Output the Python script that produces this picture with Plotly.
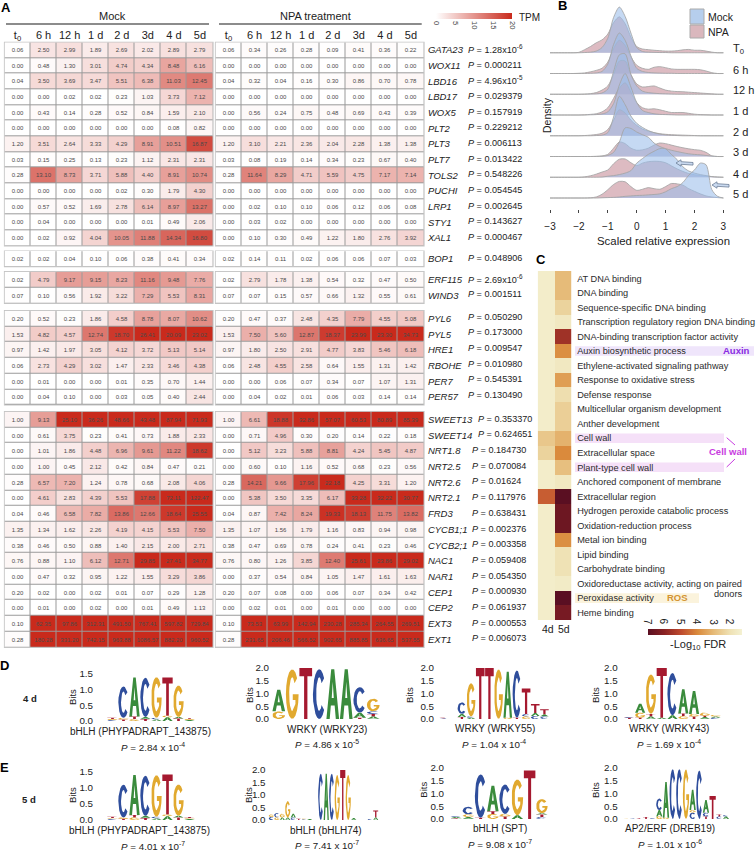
import math
import plotly.graph_objects as go

W, H = 756, 851
FONT = "Liberation Sans"

# ---------- Panel A data ----------
TIMES = ["t<sub>0</sub>", "6 h", "12 h", "1 d", "2 d", "3d", "4 d", "5d"]
GENES_1 = ["GATA23","WOX11","LBD16","LBD17","WOX5","PLT2","PLT3","PLT7","TOLS2","PUCHI","LRP1","STY1","XAL1"]
MOCK_1 = [
 [0.06,2.50,2.99,1.89,2.69,2.02,2.89,2.79],
 [0.00,0.48,1.30,3.01,4.74,4.34,8.48,6.16],
 [0.04,3.50,3.69,3.47,5.51,6.38,11.03,12.45],
 [0.00,0.00,0.02,0.02,0.23,1.03,3.73,7.12],
 [0.00,0.43,0.14,0.28,0.52,0.84,1.59,2.10],
 [0.00,0.00,0.00,0.00,0.00,0.00,0.08,0.82],
 [1.20,3.51,2.64,3.33,4.29,8.91,10.51,16.87],
 [0.03,0.15,0.25,0.13,0.23,1.12,2.31,2.31],
 [0.28,13.10,8.73,3.71,5.88,4.40,8.91,10.74],
 [0.00,0.00,0.00,0.00,0.02,0.30,1.79,4.30],
 [0.00,0.57,0.52,1.69,2.78,6.14,8.97,13.27],
 [0.00,0.04,0.00,0.00,0.00,0.01,0.49,2.06],
 [0.00,0.02,0.92,4.04,10.05,11.88,14.34,16.80]]
NPA_1 = [
 [0.06,0.34,0.26,0.28,0.09,0.41,0.36,0.22],
 [0.00,0.00,0.00,0.00,0.00,0.00,0.00,0.00],
 [0.04,0.32,0.04,0.16,0.30,0.86,0.70,0.78],
 [0.00,0.00,0.00,0.00,0.00,0.00,0.00,0.00],
 [0.00,0.56,0.24,0.75,0.48,0.69,0.43,0.39],
 [0.00,0.00,0.00,0.00,0.00,0.00,0.00,0.00],
 [1.20,3.10,2.21,2.36,2.04,2.28,1.38,1.38],
 [0.03,0.08,0.19,0.14,0.34,0.23,0.67,0.40],
 [0.28,11.64,8.29,4.71,5.59,4.75,7.17,7.14],
 [0.00,0.00,0.00,0.00,0.00,0.00,0.00,0.00],
 [0.00,0.02,0.10,0.10,0.06,0.12,0.06,0.08],
 [0.00,0.03,0.02,0.00,0.00,0.00,0.00,0.00],
 [0.00,0.10,0.30,0.49,1.22,1.80,2.76,3.92]]
P_1 = ["1.28x10<sup>-6</sup>","0.000211","4.96x10<sup>-5</sup>","0.029379","0.157919","0.229212","0.006113","0.013422","0.548226","0.054545","0.002645","0.143627","0.000467"]

GENES_2 = ["BOP1"]
MOCK_2 = [[0.02,0.02,0.04,0.10,0.06,0.38,0.41,0.34]]
NPA_2 = [[0.02,0.14,0.11,0.02,0.06,0.06,0.07,0.03]]
P_2 = ["0.048906"]

GENES_3 = ["ERF115","WIND3"]
MOCK_3 = [[0.02,4.79,9.17,9.15,8.23,11.16,9.48,7.76],[0.07,0.10,0.56,1.92,3.22,7.29,5.53,8.31]]
NPA_3 = [[0.02,2.79,1.78,1.38,0.54,0.32,0.47,0.50],[0.07,0.07,0.15,0.57,0.66,1.32,0.55,0.61]]
P_3 = ["2.69x10<sup>-6</sup>","0.001511"]

GENES_4 = ["PYL6","PYL5","HRE1","RBOHE","PER7","PER57"]
MOCK_4 = [
 [0.20,0.52,0.23,1.86,4.58,8.78,8.07,10.62],
 [1.53,4.82,4.57,12.74,18.70,26.41,20.09,23.02],
 [0.97,1.42,1.97,3.05,4.12,3.72,5.13,5.14],
 [0.06,2.73,4.29,3.02,1.47,2.33,3.46,4.38],
 [0.00,0.01,0.00,0.00,0.01,0.35,0.70,1.44],
 [0.00,0.04,0.10,0.00,0.03,0.05,0.40,2.44]]
NPA_4 = [
 [0.20,0.47,0.37,2.48,4.35,7.79,4.55,5.08],
 [1.53,7.50,5.60,12.87,18.37,23.99,23.30,34.73],
 [0.97,1.80,2.50,2.91,4.77,3.83,5.46,6.18],
 [0.06,2.48,4.55,2.58,0.64,1.55,1.31,1.42],
 [0.00,0.00,0.06,0.07,0.34,0.07,1.07,1.31],
 [0.00,0.04,0.02,0.01,0.06,0.03,0.14,0.14]]
P_4 = ["0.050290","0.173000","0.009547","0.010980","0.545391","0.130490"]

GENES_5 = ["SWEET13","SWEET14","NRT1.8","NRT2.5","NRT2.6","NRT2.1","FRD3","CYCB1;1","CYCB2;1","NAC1","NAR1","CEP1","CEP2","EXT3","EXT1"]
MOCK_5 = [
 [1.00,9.13,25.10,36.26,48.66,43.48,87.94,71.93],
 [0.00,0.61,3.75,0.23,0.41,0.73,1.88,2.33],
 [0.00,1.01,1.86,4.48,6.96,9.61,11.22,18.62],
 [0.00,1.00,0.45,2.12,0.42,0.84,0.47,0.21],
 [0.28,6.57,7.20,1.24,0.78,0.68,2.08,4.06],
 [0.00,4.61,2.83,4.39,5.53,17.88,72.11,122.47],
 [0.04,0.46,6.58,7.82,13.86,12.66,18.64,25.55],
 [1.35,1.34,1.62,2.26,4.19,4.15,5.53,7.50],
 [0.38,0.46,0.50,0.88,1.40,2.15,2.00,2.71],
 [0.76,0.88,1.10,6.12,12.71,29.85,27.41,34.77],
 [0.00,0.47,0.32,0.95,1.22,1.55,3.29,3.86],
 [0.20,0.02,0.00,0.02,0.01,0.07,0.29,1.28],
 [0.00,0.01,0.00,0.02,0.00,0.01,0.49,1.13],
 [0.10,62.35,97.86,312.31,491.50,767.41,597.82,729.84],
 [0.28,180.28,331.20,742.15,963.88,1086.57,882.20,960.52]]
NPA_5 = [
 [1.00,6.61,18.88,32.86,57.07,60.53,80.89,85.39],
 [0.00,0.71,4.96,0.30,0.20,0.14,0.22,0.18],
 [0.00,5.12,3.23,5.88,8.81,4.24,5.45,4.87],
 [0.00,0.60,0.10,1.16,0.52,0.68,0.23,0.56],
 [0.28,14.21,9.66,17.96,22.18,4.25,3.31,1.20],
 [0.00,5.38,3.50,3.35,6.17,33.28,32.22,30.77],
 [0.04,0.87,7.42,8.24,19.33,18.13,11.75,13.82],
 [1.35,1.07,1.56,1.79,1.16,0.83,0.94,0.98],
 [0.38,0.47,0.69,0.78,0.24,0.41,0.23,0.46],
 [0.76,0.80,1.26,3.85,12.40,25.61,23.86,29.02],
 [0.00,0.37,0.54,0.84,1.05,1.47,1.61,1.63],
 [0.20,0.07,0.08,0.00,0.06,0.07,0.34,0.42],
 [0.00,0.02,0.01,0.00,0.01,0.00,0.00,0.00],
 [0.10,73.53,63.99,142.94,230.28,285.34,264.55,269.51],
 [0.28,231.65,206.46,566.52,902.65,885.85,636.65,537.55]]
P_5 = ["0.353370","0.624651","0.184730","0.070084","0.01624","0.117976","0.638431","0.002376","0.003358","0.059408","0.054350","0.000930","0.061937","0.000553","0.006073"]

# ---------- Panel B data ----------
RIDGE_X = [-3.0,-2.8,-2.6,-2.4,-2.2,-2.0,-1.8,-1.6,-1.4,-1.2,-1.0,-0.8,-0.6,-0.4,-0.2,0.0,0.2,0.4,0.6,0.8,1.0,1.2,1.4,1.6,1.8,2.0,2.2,2.4,2.6,2.8,3.0]
RIDGE_LABELS = ["T<sub>0</sub>","6 h","12 h","1 d","2 d","3 d","4 d","5 d"]
NPA_T0 = [0,0,0,0,0,.02,.15,.3,.48,.62,.9,1.45,1.73,1.4,.75,.3,.18,.15,.12,.1,.08,.08,.1,.14,.16,.12,.12,.08,.03,0,0]
MOCK_T0 = [0,0,0,0,0,0,.01,.03,.08,.25,.7,1.7,2.2,1.75,.95,.25,.06,.03,.02,.01,.01,0,0,0,0,0,0,0,0,0,0]
NPA_6H = [0,0,0,0,0,.01,.03,.08,.15,.25,.55,1.2,1.6,1.35,.8,.4,.25,.2,.3,.33,.28,.22,.2,.2,.2,.2,.18,.12,.04,0,0]
MOCK_6H = [0,0,0,0,0,0,0,.01,.03,.1,.45,1.4,1.95,1.6,.85,.25,.1,.05,.03,.02,.01,.01,0,0,0,0,0,0,0,0,0]
NPA_12H = [0,0,0,0,0,0,.01,.03,.08,.2,.4,.95,1.6,1.6,.95,.5,.35,.37,.4,.3,.2,.15,.13,.12,.1,.08,.06,.04,.02,0,0]
MOCK_12H = [0,0,0,0,0,0,0,.01,.02,.06,.25,1.1,1.9,1.95,.95,.4,.15,.08,.05,.03,.02,.01,0,0,0,0,0,0,0,0,0]
NPA_1D = [0,0,0,0,0,0,.01,.03,.06,.15,.35,.8,1.3,1.55,1.1,.6,.35,.28,.3,.25,.18,.12,.12,.12,.08,.04,.02,.01,0,0,0]
MOCK_1D = [0,0,0,0,0,0,0,.01,.02,.05,.15,.55,1.45,2.0,1.35,.6,.22,.12,.06,.03,.02,.01,0,0,0,0,0,0,0,0,0]
NPA_2D = [0,0,0,0,0,0,.01,.03,.06,.12,.3,.75,1.25,1.1,.75,.5,.32,.22,.15,.1,.07,.05,.04,.03,.02,.01,0,0,0,0,0]
MOCK_2D = [0,0,0,0,0,0,0,0,.01,.03,.15,.9,1.9,1.5,.95,.6,.4,.25,.15,.08,.04,.02,.01,0,0,0,0,0,0,0,0]
NPA_3D = [0,0,0,0,0,0,0,0,.01,.03,.1,.4,.7,.62,.4,.3,.32,.4,.55,.65,.62,.55,.48,.42,.37,.33,.3,.2,.03,0,0]
MOCK_3D = [0,0,0,0,0,0,0,0,0,.01,.05,.2,.7,1.38,1.35,1.18,1.05,.93,.65,.48,.38,.3,.24,.18,.13,.1,.08,.05,.02,0,0]
NPA_4D = [0,0,0,0,0,0,.02,.07,.15,.25,.35,.65,.87,.88,.7,.56,.68,.75,.77,.76,.7,.55,.4,.28,.18,.12,.08,.05,.03,.01,0]
MOCK_4D = [0,0,0,0,0,0,0,0,0,.01,.05,.08,.13,.2,.32,.68,.9,1.1,1.25,1.38,1.37,1.1,.85,.5,.3,.2,.13,.08,.03,.01,0]
NPA_5D = [0,0,0,0,0,0,0,.01,.05,.18,.4,.65,.8,.78,.55,.37,.42,.5,.45,.42,.55,.7,.68,.62,.45,.32,.2,.1,.05,.02,0]
MOCK_5D = [0,0,0,0,0,0,0,0,0,.01,.02,.03,.05,.08,.1,.12,.13,.15,.17,.2,.3,.45,.55,.75,1.1,1.35,1.68,1.6,.4,.08,0]
RIDGES_NPA = [NPA_T0,NPA_6H,NPA_12H,NPA_1D,NPA_2D,NPA_3D,NPA_4D,NPA_5D]
RIDGES_MOCK = [MOCK_T0,MOCK_6H,MOCK_12H,MOCK_1D,MOCK_2D,MOCK_3D,MOCK_4D,MOCK_5D]
B_TICKS = [-3,-2,-1,0,1,2,3]

# ---------- Panel C data ----------
TERMS = ["AT DNA binding","DNA binding","Sequence-specific DNA binding","Transcription regulatory region DNA binding",
 "DNA-binding transcription factor activity","Auxin biosynthetic process","Ethylene-activated signaling pathway",
 "Response to oxidative stress","Defense response","Multicellular organism development","Anther development",
 "Cell wall","Extracellular space","Plant-type cell wall","Anchored component of membrane","Extracellular region",
 "Hydrogen peroxide catabolic process","Oxidation-reduction process","Metal ion binding","Lipid binding",
 "Carbohydrate binding","Oxidoreductase activity, acting on paired","Peroxidase activity","Heme binding"]
FDR_4D = [1.5,1.5,1.5,1.5,1.5,1.5,1.5,1.5,1.5,1.5,1.5,2.7,2.4,1.5,1.5,4.7,1.5,1.5,1.5,1.5,1.5,1.5,1.5,1.5]
FDR_5D = [3.0,3.0,2.4,1.7,5.6,3.9,1.7,3.6,2.1,2.5,2.5,3.2,4.0,2.9,1.7,7.0,6.6,6.6,3.9,2.0,2.0,1.6,7.0,6.4]
FDR_COLS = ["4d","5d"]
FDR_TICKS = [7,6,5,4,3,2]

# ---------- Panels D / E data: bits per letter, bottom to top ----------
LOGO_D1 = [[("C",.03),("G",.03),("T",.04)],[("T",.05),("G",.05),("C",1.0)],[("G",.06),("T",.08),("A",1.25)],[("T",.06),("A",.07),("C",1.25)],
 [("A",.05),("C",.05),("G",1.3)],[("A",.12),("G",.05),("T",1.22)],[("T",.08),("A",.05),("G",1.0)],[("A",.03),("G",.03),("T",.03)]]
LOGO_D2 = [[("G",.3),("A",.85)],[("G",1.95)],[("T",2.0)],[("C",1.95)],[("A",1.95)],[("A",1.95)],[("T",.05),("A",.2),("C",1.0)],[("A",.1),("T",.1),("C",.1),("G",.5)]]
LOGO_D3 = [[("C",.02),("T",.03)],[],[("T",.08),("A",.12),("C",.45)],[("A",.05),("C",.05),("G",1.3)],[("T",2.0)],[("T",2.0)],[("G",1.95)],[("G",.05),("A",1.8)],
 [("T",.05),("C",1.85)],[("G",.1),("C",.1),("T",1.0)],[("C",.12),("A",.12),("T",.35)],[("C",.1),("A",.08),("T",.2)]]
LOGO_D4 = [[("T",.05),("C",.03)],[("T",.05),("G",.2),("A",.35)],[("A",.1),("T",.1),("G",1.55)],[("A",.05),("T",1.95)],[("A",.15),("C",1.65)],
 [("G",.12),("T",.1),("A",.95)],[("T",.1),("G",.1),("A",.9)],[("A",.08),("T",.05),("G",.12)],[("C",.05),("A",.05),("G",.06)]]
LOGO_E1 = [[("C",.03),("G",.03),("T",.04)],[("T",.04),("G",.04),("C",1.02)],[("G",.08),("T",.08),("A",1.25)],[("T",.06),("A",.07),("C",1.25)],
 [("A",.05),("C",.05),("G",1.3)],[("A",.12),("G",.05),("T",1.25)],[("T",.08),("A",.05),("G",.98)],[("A",.03),("G",.03),("T",.03)]]
LOGO_E2 = [[("C",.12),("G",.1)],[("G",.1),("C",.18)],[("A",.1),("G",.15)],[("A",.1),("G",.65)],[("C",.1),("A",.15)],[("T",.05)],[("C",.03),("G",.03)],[("A",.04)],[("T",.03)],
 [("C",1.85)],[("A",1.85)],[("C",1.85)],[("G",1.8)],[("T",2.0)],[("G",1.8)],[("A",.08)],[],[],[("C",.05)],[("A",.1),("T",.28)]]
LOGO_E3 = [[("T",.03),("A",.05),("C",.03)],[("A",.08),("G",.1),("C",.3)],[("T",.05),("C",1.7)],[("G",.2),("T",.1),("A",1.0)],[("T",.1),("G",.1),("C",1.15)],
 [("A",.15),("G",1.4)],[("T",1.9)],[("C",.08),("T",.1),("A",.05),("G",.55)]]
LOGO_E4 = [[("G",.02)],[("C",.02)],[("T",.03)],[("T",.08)],[("C",.03)],[("G",.1),("A",.25),("C",.45)],[("G",.05),("A",1.4)],[("C",1.95)],[("C",1.95)],[("G",1.95)],
 [("C",.25),("G",.1),("A",.8)],[("C",1.9)],[("T",.1),("C",.15),("A",.5)],[("T",.9)],[("C",.1),("T",.08)],[("A",.1),("C",.05)]]
LOGO_NAMES = ["bHLH (PHYPADRAPT_143875)","WRKY (WRKY23)","WRKY (WRKY55)","WRKY (WRKY43)","bHLH (PHYPADRAPT_143875)","bHLH (bHLH74)","bHLH (SPT)","AP2/ERF (DREB19)"]
LOGO_P = ["2.84 x 10<sup>-4</sup>","4.86 x 10<sup>-5</sup>","1.04 x 10<sup>-4</sup>","1.69 x 10<sup>-4</sup>","4.01 x 10<sup>-7</sup>","7.41 x 10<sup>-7</sup>","9.08 x 10<sup>-7</sup>","1.01 x 10<sup>-6</sup>"]
LETTER_COLORS = {"A":"#3A8B3C","C":"#2F4E9C","G":"#E1A92F","T":"#A5192F"}

# ---------- helpers ----------
def px(x): return x / W
def py(y): return 1 - y / H

fig = go.Figure()
layout_axes, annots, shapes = {}, [], []

def add_axes(n, x0, x1, ytop, ybot, xopts=None, yopts=None):
    sfx = "" if n == 1 else str(n)
    xa = dict(domain=[px(x0), px(x1)], anchor=f"y{sfx}", showgrid=False, zeroline=False, showticklabels=False, ticks="", showline=False)
    ya = dict(domain=[py(ybot), py(ytop)], anchor=f"x{sfx}", showgrid=False, zeroline=False, showticklabels=False, ticks="", showline=False)
    xa.update(xopts or {}); ya.update(yopts or {})
    layout_axes[f"xaxis{sfx}"] = xa
    layout_axes[f"yaxis{sfx}"] = ya
    return f"x{sfx}", f"y{sfx}"

def ann(text, x, y, size=9.5, xanchor="center", color="#222", angle=0, yanchor="middle"):
    annots.append(dict(text=text, x=px(x), y=py(y), xref="paper", yref="paper", showarrow=False,
                       font=dict(size=size, color=color, family=FONT), xanchor=xanchor, yanchor=yanchor,
                       textangle=angle, borderpad=0, borderwidth=0))

def rect(x0, y0, x1, y1, fill, line=None, lw=0, layer="below"):
    shapes.append(dict(type="rect", xref="paper", yref="paper", x0=px(x0), x1=px(x1), y0=py(y1), y1=py(y0),
                       fillcolor=fill, line=dict(color=line or fill, width=lw), layer=layer))

def seg(x0, y0, x1, y1, color, lw=1.0):
    shapes.append(dict(type="line", xref="paper", yref="paper", x0=px(x0), x1=px(x1), y0=py(y0), y1=py(y1),
                       line=dict(color=color, width=lw), layer="above"))

def block_arrow(xtip, xtail, y):
    pts = [(xtip,y),(xtip+5,y-3.2),(xtip+5,y-1.3),(xtail,y-1.3+.8),(xtail,y+1.3+.8),(xtip+5,y+1.3),(xtip+5,y+3.2)]
    path = "M " + " L ".join(f"{px(a):.5f},{py(b):.5f}" for a, b in pts) + " Z"
    shapes.append(dict(type="path", xref="paper", yref="paper", path=path, fillcolor="#CADAF0",
                       line=dict(color="#6B7C96", width=0.8), layer="above"))

# ---------- Panel A ----------
GROUPS = [(GENES_1,MOCK_1,NPA_1,P_1,42.3,246.0),(GENES_2,MOCK_2,NPA_2,P_2,251.0,266.7),(GENES_3,MOCK_3,NPA_3,P_3,271.7,303.3),
          (GENES_4,MOCK_4,NPA_4,P_4,310.7,405.0),(GENES_5,MOCK_5,NPA_5,P_5,411.7,647.3)]
n_ax = 1
for gi, (genes, mock, npa, pvals, yt, yb) in enumerate(GROUPS):
    for side, vals, (x0, x1) in (("m", mock, (4.5, 213.0)), ("n", npa, (215.5, 424.0))):
        xo = dict(type="category", categoryorder="array", categoryarray=TIMES)
        yo = dict(type="category", autorange="reversed", categoryorder="array", categoryarray=genes)
        if gi == 0:
            xo.update(side="top", showticklabels=True, tickfont=dict(size=11, color="#222", family=FONT), ticks="")
        if side == "n":
            yo.update(side="right", showticklabels=True, tickfont=dict(size=9.5, color="#222", family=FONT, style="italic"),
                      ticks="outside", ticklen=1, tickcolor="rgba(0,0,0,0)")
        xr, yr = add_axes(n_ax, x0, x1, yt, yb, xo, yo)
        n_ax += 1
        rect(x0, yt, x1, yb, "#9A9A9A", "#C4C4C4", 1.2)
        fig.add_trace(go.Heatmap(z=vals, x=TIMES, y=genes, coloraxis="coloraxis", xaxis=xr, yaxis=yr, xgap=1, ygap=1,
                                 text=[[f"{v:.2f}" for v in r] for r in vals], texttemplate="%{text}",
                                 textfont=dict(size=6, color="#4a4a4a", family=FONT), hoverinfo="skip"))
    rh = (yb - yt) / len(genes)
    for i, p in enumerate(pvals):
        g = genes[i]
        xp = 478 if g.startswith("SWEET") else (472 if gi == 4 else 468)
        dy = -2 if gi == 3 else -1
        ann(f"<i>P</i> = {p}", xp, yt + (i + .5) * rh + dy, size=9.1, xanchor="left")

seg(6, 24, 209, 24, "#666", 1.4)
seg(219, 24, 421.7, 24, "#666", 1.4)
ann("Mock", 112, 16, size=11)
ann("NPA treatment", 315, 16, size=11)
ann("TPM", 519, 17, size=10, xanchor="left")

# ---------- Panel B ----------
PX_PER_X = 28.9
X_ZERO = 636.7
xb0, xb1, yb_top, yb_bot = 541.0, 733.0, 2.0, 209.0
PX_PER_Y = 20.75
bx, by = add_axes(n_ax, xb0, xb1, yb_top, yb_bot,
    dict(range=[(xb0 - X_ZERO) / PX_PER_X, (xb1 - X_ZERO) / PX_PER_X], tickvals=B_TICKS, showticklabels=True, ticks="outside", ticklen=3,
         tickcolor="#444", tickwidth=1, ticklabelstandoff=5, tickfont=dict(size=10, color="#222", family=FONT)),
    dict(range=[(198 - yb_bot) / PX_PER_Y, (198 - yb_top) / PX_PER_Y]))
n_ax += 1
n_r = len(RIDGE_LABELS)
for i in range(n_r):
    base = n_r - 1 - i
    for name, arr, col in (("NPA", RIDGES_NPA[i], "rgba(205,155,165,0.68)"), ("Mock", RIDGES_MOCK[i], "rgba(155,190,235,0.58)")):
        fig.add_trace(go.Scatter(x=RIDGE_X, y=[base + v for v in arr], mode="lines", fill="toself", fillcolor=col, name=name,
                                 line=dict(color="rgba(165,165,165,0.95)", width=0.9, shape="spline", smoothing=0.8),
                                 xaxis=bx, yaxis=by, showlegend=False, hoverinfo="skip"))
for label, yy in zip(RIDGE_LABELS, [49, 70, 90, 111, 132, 152, 174, 194]):
    ann(label, 733, yy, size=11, xanchor="left")
ann("Density", 547, 115, size=10.5, angle=-90)
ann("Scaled relative expression", 663, 241, size=11.4)
rect(690, 9, 704, 24, "#B6CEED", "#AAAAAA", 1, layer="above")
rect(690, 25, 704, 38, "#DAB7BD", "#AAAAAA", 1, layer="above")
ann("Mock", 708, 17, size=10.5, xanchor="left")
ann("NPA", 708, 32, size=10.5, xanchor="left")
block_arrow(676, 693, 163)
block_arrow(712, 729, 185)

# ---------- Panel C ----------
for r_i, c in ((5, "#EFE5FB"),):
    rect(575, 271 + (r_i + .5) * 14.54 - 4.8, 754, 271 + (r_i + .5) * 14.54 + 4.8, c)
for r_i in (11, 13):
    rect(575, 271 + (r_i + .5) * 14.54 - 4.8, 724, 271 + (r_i + .5) * 14.54 + 4.8, "#F5E0F8")
rect(575, 271 + 22.5 * 14.54 - 4.8, 699, 271 + 22.5 * 14.54 + 4.8, "#FBF3DC")

cx, cy = add_axes(n_ax, 537.7, 571.3, 271, 620,
    dict(type="category"),
    dict(type="category", autorange="reversed", side="right", showticklabels=True, categoryorder="array", categoryarray=TERMS,
         tickfont=dict(size=9.2, color="#2b2b2b", family=FONT), ticks="outside", ticklen=3, tickcolor="rgba(0,0,0,0)"))
n_ax += 1
fig.add_trace(go.Heatmap(z=[[-a, -b] for a, b in zip(FDR_4D, FDR_5D)], x=FDR_COLS, y=TERMS, coloraxis="coloraxis2",
                         xaxis=cx, yaxis=cy, hoverinfo="skip"))
ann("4d", 548, 629, size=10.5)
ann("5d", 564, 629, size=10.5)
ann("donors", 714, 594, size=9.2, xanchor="left", color="#2b2b2b")
ann("<b>Auxin</b>", 722.7, 271 + 5.5 * 14.54, size=9.5, xanchor="left", color="#8A2BE2")
ann("<b>Cell wall</b>", 727.7, 451.7, size=9.5, color="#C83CE0")
ann("<b>ROS</b>", 677.7, 597, size=9.5, color="#D39433")
seg(726.7, 437.7, 735, 445, "#C83CE0", 1)
seg(735, 459, 726.7, 467, "#C83CE0", 1)
ann("-Log<sub>10</sub> FDR", 698, 645, size=11)
for v in FDR_TICKS:
    ann(str(v), 648 + (7 - v) * 93.7 / 5.7, 622, size=10, angle=90)

# ---------- Panels D / E: logo glyph outlines in a unit box ----------
def arc(rx, ry, a0, a1, n=16):
    return [(.5 + rx * math.cos(math.radians(a0 + (a1 - a0) * k / n)), .5 + ry * math.sin(math.radians(a0 + (a1 - a0) * k / n))) for k in range(n + 1)]
GLYPHS = {
 "T": [(0,1),(1,1),(1,.84),(.63,.84),(.63,0),(.37,0),(.37,.84),(0,.84)],
 "A": [(0,0),(.26,0),(.35,.27),(.5,.27),(.5,.42),(.42,.42),(.5,.75),(.58,.42),(.5,.42),(.5,.27),(.65,.27),(.74,0),(1,0),(.62,1),(.38,1)],
 "C": arc(.5,.5,40,320) + arc(.24,.34,320,40),
 "G": arc(.5,.5,40,360) + [(.54,.5),(.54,.38),(.75,.38),(.75,.3)] + arc(.24,.34,305,40),
}

def draw_logo(n, logo, x0, x1, y_bot, y_top, ymax, right_edge):
    xa, ya = add_axes(n, x0, x1, y_top, y_bot, dict(range=[0, len(logo)]),
        dict(range=[0, ymax], tickvals=[v * .5 for v in range(int(ymax * 2) + 1)], tickformat=".1f", showticklabels=True,
             ticks="outside", ticklen=max(x0 - right_edge - 3, 0), tickcolor="rgba(0,0,0,0)",
             tickfont=dict(size=9.8, color="#222", family=FONT)))
    polys = {k: ([], []) for k in GLYPHS}
    for i, stack in enumerate(logo):
        bottom = 0.0
        for letter, h in stack:
            xs, ys = polys[letter]
            for gx, gy in GLYPHS[letter]:
                xs.append(i + .03 + .94 * gx)
                ys.append(bottom + gy * h)
            xs.append(None); ys.append(None)
            bottom += h
    for letter, (xs, ys) in polys.items():
        if xs:
            fig.add_trace(go.Scatter(x=xs, y=ys, mode="lines", fill="toself", fillcolor=LETTER_COLORS[letter], name=letter,
                                     line=dict(width=0, color=LETTER_COLORS[letter]), xaxis=xa, yaxis=ya, showlegend=False, hoverinfo="skip"))

LOGOS = [
 (LOGO_D1,107,195,721,674,1.5,93,72,697,140,731.5,152.7,747),
 (LOGO_D2,272,380,719,668,2.0,270.7,249,695,326.7,729,327,744),
 (LOGO_D3,439,549,719,668,2.0,434,409,695,494.7,728,494,744),
 (LOGO_D4,624,721,719,668,2.0,617.7,595,695,669,728,669,744),
 (LOGO_E1,107,195,820,772,1.5,93,72,795,139,830.7,152.7,846),
 (LOGO_E2,268.5,378.5,820,770,2.0,268,248,795,326,830.7,327,845),
 (LOGO_E3,450,548,819,768,2.0,444,422.7,790,500,828,500,844),
 (LOGO_E4,622.7,729.3,819,768,2.0,617.7,595,790,670,828,670,844),
]
for li, (logo, x0, x1, yb0, yt0, ymax, re_, bx_, by_, nx, ny, ppx, ppy) in enumerate(LOGOS):
    draw_logo(n_ax, logo, x0, x1, yb0, yt0, ymax, re_)
    n_ax += 1
    ann("Bits", bx_, by_, size=9.5, angle=-90)
    ann(LOGO_NAMES[li], nx, ny, size=10)
    ann(f"<i>P</i> = {LOGO_P[li]}", ppx, ppy, size=9.8)
ann("<b>4 d</b>", 30, 698, size=9.5)
ann("<b>5 d</b>", 29, 799, size=9.5)

for t, x, y in (("A", 1, 8), ("B", 558, 6), ("C", 536, 259), ("D", 0, 665), ("E", 0, 767)):
    ann(f"<b>{t}</b>", x, y, size=13, xanchor="left", color="#000")

# ---------- layout ----------
fig.update_layout(
    width=W, height=H, margin=dict(l=0, r=0, t=0, b=0, pad=0, autoexpand=False), paper_bgcolor="white", plot_bgcolor="rgba(0,0,0,0)",
    font=dict(family=FONT, color="#222"), showlegend=False, annotations=annots, shapes=shapes,
    coloraxis=dict(cmin=0, cmax=20, colorscale=[[0, "#FFFFFF"], [1, "#C92A1C"]],
        colorbar=dict(orientation="h", x=px(436), xanchor="left", y=py(13), yanchor="top", len=76, lenmode="pixels", thickness=6,
                      thicknessmode="pixels", xpad=0, ypad=0, outlinewidth=0, ticks="", tickvals=[0, 5, 10, 15, 20], tickangle=90,
                      tickfont=dict(size=7.5, color="#444", family=FONT))),
    coloraxis2=dict(cmin=-7.0, cmax=-1.3,
        colorscale=[[0, "#5A0F22"], [.175, "#8A2223"], [.35, "#BE4A2E"], [.526, "#DA8A3C"], [.70, "#E6BB78"], [.877, "#EFE2B5"], [1, "#F4F1D2"]],
        colorbar=dict(orientation="h", x=px(648), xanchor="left", y=py(635), yanchor="bottom", len=93.7, lenmode="pixels", thickness=6,
                      thicknessmode="pixels", xpad=0, ypad=0, outlinewidth=0, ticks="", showticklabels=False)),
    **layout_axes,
)
fig.write_html("out.html", config={"displayModeBar": False},
               post_script="document.body.style.margin='0';document.body.style.overflow='hidden';")
